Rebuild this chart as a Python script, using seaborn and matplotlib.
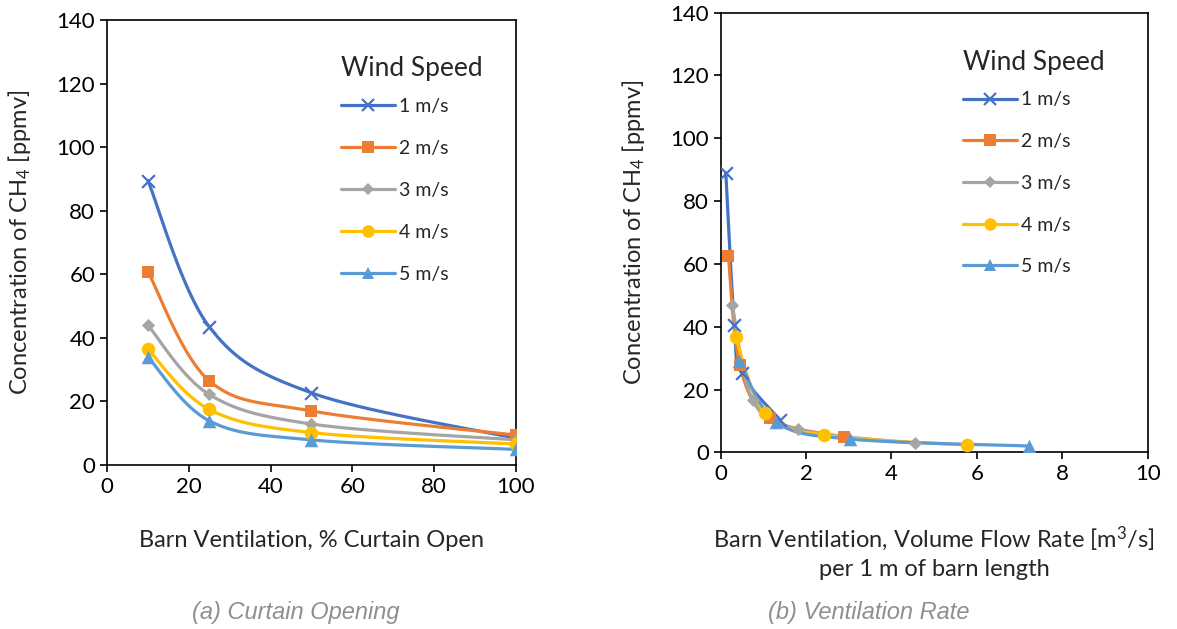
import numpy as np
import pandas as pd
import seaborn as sns
import matplotlib.pyplot as plt
from matplotlib.lines import Line2D

# data
pct_open = [10, 25, 50, 100]
curtain_1 = [89.5, 43.5, 22.7, 8.4]
curtain_2 = [60.8, 26.5, 17.0, 9.4]
curtain_3 = [44.0, 22.2, 12.9, 7.9]
curtain_4 = [36.4, 17.5, 10.2, 6.6]
curtain_5 = [34.0, 13.9, 7.9, 4.9]

flow_1 = [0.12, 0.32, 0.49, 1.39]
flow_2 = [0.18, 0.45, 1.15, 2.89]
flow_3 = [0.27, 0.75, 1.80, 4.55]
flow_4 = [0.35, 1.04, 2.42, 5.76]
flow_5 = [0.44, 1.30, 3.04, 7.23]
rate_1 = [89.0, 40.5, 25.2, 10.3]
rate_2 = [62.5, 27.8, 10.8, 4.8]
rate_3 = [46.9, 16.7, 7.3, 2.9]
rate_4 = [36.6, 12.4, 5.5, 2.3]
rate_5 = [29.0, 9.7, 4.2, 2.0]

labels = ['1 m/s', '2 m/s', '3 m/s', '4 m/s', '5 m/s']
colors = ['#4472C4', '#ED7D31', '#A5A5A5', '#FFC000', '#5B9BD5']
markers = ['x', 's', 'D', 'o', '^']
msizes = [85, 80, 45, 95, 95]

sns.set_style("ticks")
plt.rcParams['font.family'] = ['Lato', 'DejaVu Sans']
plt.rcParams['mathtext.fontset'] = 'custom'
plt.rcParams['mathtext.rm'] = 'Lato'
plt.rcParams['mathtext.it'] = 'Lato:italic'


def smooth(x, y, n=40):
    # excel-style smoothed line (catmull-rom through the points)
    x = np.asarray(x, float)
    y = np.asarray(y, float)
    px = np.concatenate([[x[0]], x, [x[-1]]])
    py = np.concatenate([[y[0]], y, [y[-1]]])
    xs, ys = [], []
    t = np.linspace(0, 1, n)
    for i in range(1, len(px) - 2):
        for p, out in ((px, xs), (py, ys)):
            p0, p1, p2, p3 = p[i - 1], p[i], p[i + 1], p[i + 2]
            out.extend(0.5 * (2 * p1 + (-p0 + p2) * t
                              + (2 * p0 - 5 * p1 + 4 * p2 - p3) * t ** 2
                              + (-p0 + 3 * p1 - 3 * p2 + p3) * t ** 3))
    return np.array(xs), np.array(ys)


def draw(ax, xs, ys):
    for x, y, c, m, s in zip(xs, ys, colors, markers, msizes):
        sx, sy = smooth(x, y)
        sns.lineplot(x=sx, y=sy, ax=ax, color=c, lw=2.3, sort=False, estimator=None)
        pts = pd.DataFrame({'x': x, 'y': y})
        if m == 'x':
            sns.scatterplot(data=pts, x='x', y='y', ax=ax, color=c, marker=m, s=s, linewidth=1.6, zorder=3)
        else:
            sns.scatterplot(data=pts, x='x', y='y', ax=ax, color=c, marker=m, s=s, linewidth=0, zorder=3)


def style(ax, leg_x, leg_y, spacing):
    for sp in ax.spines.values():
        sp.set_color('black')
        sp.set_linewidth(1.2)
    ax.tick_params(direction='out', length=5, width=1.2, labelsize=16, colors='black')
    ax.set_ylim(0, 140)
    ax.set_yticks(range(0, 141, 20))
    ax.set_ylabel('Concentration of CH$_4$ [ppmv]', fontsize=17, labelpad=17)
    handles = [Line2D([], [], color=c, lw=2.3, marker=m, markersize=9 if m != 'D' else 6.5,
                      markeredgewidth=1.6 if m == 'x' else 0)
               for c, m in zip(colors, markers)]
    leg = ax.legend(handles, labels, title='Wind Speed', frameon=False, fontsize=14,
                    title_fontsize=19, loc='upper left', bbox_to_anchor=(leg_x, leg_y),
                    labelspacing=spacing, handlelength=2.8, handletextpad=0.2,
                    alignment='left', borderpad=0.1)
    # pull the entries a bit closer to the title
    leg._legend_box.sep = spacing * 14 - 5.8


fig = plt.figure(figsize=(11.77, 6.29), dpi=100)
ax1 = fig.add_axes([0.0909, 0.2607, 0.3475, 0.7075])
ax2 = fig.add_axes([0.6123, 0.2809, 0.3628, 0.699])

draw(ax1, [pct_open] * 5, [curtain_1, curtain_2, curtain_3, curtain_4, curtain_5])
draw(ax2, [flow_1, flow_2, flow_3, flow_4, flow_5], [rate_1, rate_2, rate_3, rate_4, rate_5])

style(ax1, 0.543, 0.946, 1.29)
ax1.set_xlim(0, 100)
ax1.set_xticks(range(0, 101, 20))
ax1.set_xlabel('Barn Ventilation, % Curtain Open', fontsize=17, labelpad=24)

style(ax2, 0.539, 0.942, 1.27)
ax2.set_xlim(0, 10)
ax2.set_xticks(range(0, 11, 2))
ax2.set_xlabel('Barn Ventilation, Volume Flow Rate [m$^3$/s]\nper 1 m of barn length',
               fontsize=17, labelpad=29, linespacing=1.35)

fig.text(0.2515, 0.027, '(a) Curtain Opening', ha='center', va='center', fontsize=17,
         style='italic', color='#8f8f8f', family=['Liberation Sans', 'DejaVu Sans'])
fig.text(0.738, 0.027, '(b) Ventilation Rate', ha='center', va='center', fontsize=17,
         style='italic', color='#8f8f8f', family=['Liberation Sans', 'DejaVu Sans'])

fig.savefig('out.png', dpi=100)
